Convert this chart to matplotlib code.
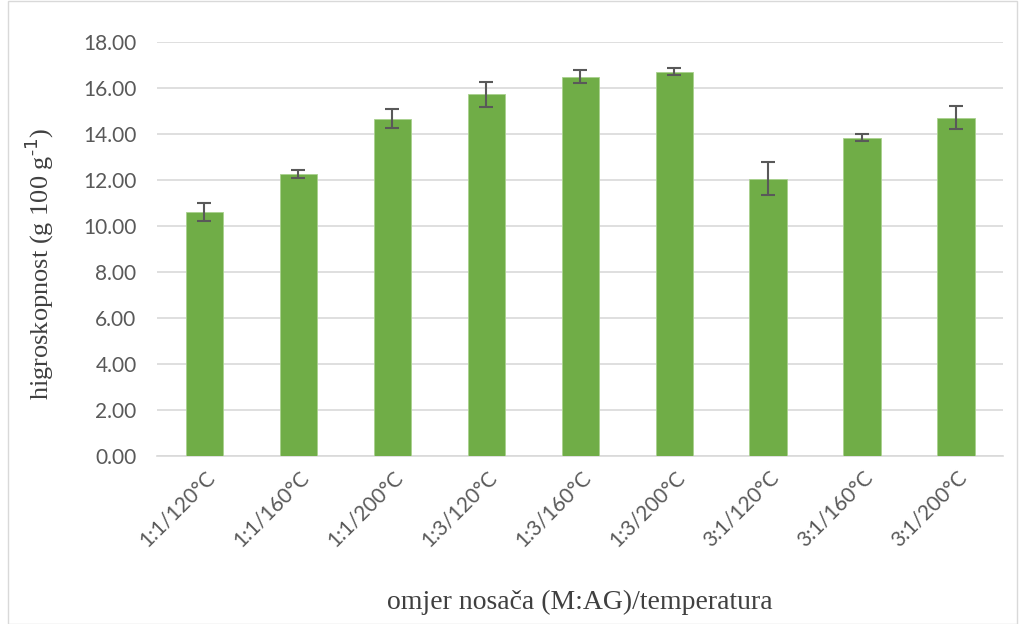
import matplotlib.pyplot as plt
from matplotlib.patches import Rectangle

categories = ['1:1/120°C', '1:1/160°C', '1:1/200°C', '1:3/120°C', '1:3/160°C',
              '1:3/200°C', '3:1/120°C', '3:1/160°C', '3:1/200°C']
values = [10.61, 12.25, 14.65, 15.72, 16.49, 16.71, 12.06, 13.84, 14.70]
errors = [0.40, 0.16, 0.41, 0.55, 0.30, 0.15, 0.72, 0.16, 0.50]
yticks = [0, 2, 4, 6, 8, 10, 12, 14, 16, 18]


def main():
    fig = plt.figure(figsize=(10.19, 6.24), dpi=100)
    ax = fig.add_axes([0.1545, 0.269, 0.830, 0.664])

    x = range(len(categories))
    ax.bar(x, values, width=0.4, color='#70AD47', edgecolor='#A9D18E',
           linewidth=0.6, zorder=3)
    ax.errorbar(x, values, yerr=errors, fmt='none', ecolor='#595959',
                elinewidth=1.5, capsize=5, capthick=1.5, zorder=4)

    ax.set_xlim(-0.5, len(categories) - 0.5)
    ax.set_ylim(0, 18)
    ax.set_yticks(yticks)
    ax.set_yticklabels([f'{v:.2f}' for v in yticks], fontsize=15,
                       color='#595959', family='Lato')
    ax.set_xticks(list(x))
    ax.set_xticklabels(categories, rotation=45, ha='right', va='top',
                       rotation_mode='anchor', fontsize=15, color='#595959',
                       family='Lato')
    ax.tick_params(axis='y', length=0, pad=15)
    ax.tick_params(axis='x', length=0, pad=8)

    ax.grid(axis='y', color='#D9D9D9', linewidth=1.2, zorder=0)
    for s in ['top', 'right', 'left']:
        ax.spines[s].set_visible(False)
    ax.spines['bottom'].set_color('#D9D9D9')
    ax.spines['bottom'].set_linewidth(1.2)

    # y title with a plain hyphen in the superscript, as in the original
    fig.text(0.039, 0.577, 'higroskopnost (g 100 g$^{\\mathregular{\u2010}1}$)', fontsize=19,
             family='Liberation Serif', color='#404040', rotation=90,
             ha='center', va='center')
    fig.text(0.569, 0.034, 'omjer nosača (M:AG)/temperatura', fontsize=20,
             family='Liberation Serif', color='#404040', ha='center', va='center')

    fig.patches.append(Rectangle((0.008, 0.0), 0.99, 0.998, transform=fig.transFigure,
                                 fill=False, edgecolor='#D9D9D9', linewidth=1))

    fig.savefig('out.png', dpi=100)


if __name__ == '__main__':
    main()
